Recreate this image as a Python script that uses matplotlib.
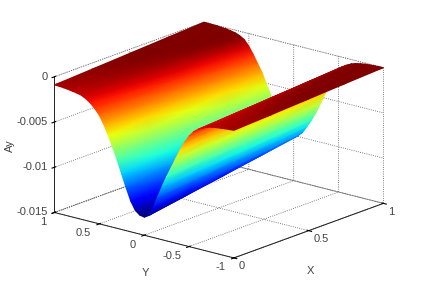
import numpy as np
import matplotlib
matplotlib.use("Agg")
import matplotlib.pyplot as plt
from matplotlib.tri import Triangulation
from mpl_toolkits.mplot3d import proj3d

plt.rcParams['font.family'] = ['Liberation Sans', 'DejaVu Sans']

y_vals = [1, .95, .9, .85, .8, .75, .7, .65, .6, .55, .5, .45, .4, .35, .3, .25, .2, .15, .1, .05, 0,
          -.05, -.1, -.15, -.2, -.25, -.3, -.35, -.4, -.45, -.5, -.55, -.6, -.65, -.7, -.75, -.8, -.85, -.9, -.95, -1]
x_vals = [0, .25, .5, .75, 1]

# Ay along each X slice, in units of 1e-4
ay_x000 = [9, 9.2, 9.6, 10.2, 11, 11.8, 13, 15.5, 19, 24, 30, 39, 50, 62, 75, 89, 103, 116, 125, 129, 130,
           127, 117, 104, 91, 79, 68, 57, 46, 36, 28, 22, 18, 15.5, 13, 11.8, 11, 10.4, 9.8, 9.4, 9]
ay_x025 = [6.8, 6.9, 7.3, 7.7, 8.4, 9.2, 10.3, 12.4, 15.5, 20, 26, 34.7, 45, 56.5, 69, 82.5, 95.5, 107.5, 116, 120.5, 122.5,
           120, 111, 99.5, 88, 76, 65, 54, 43, 33, 24.8, 19, 15.3, 12.8, 10.5, 9.4, 8.5, 8, 7.4, 7.1, 6.8]
ay_x050 = [4.5, 4.6, 4.9, 5.3, 5.9, 6.5, 7.5, 9.3, 12, 16, 22, 30.5, 40.5, 51, 63.5, 76, 88, 99, 107.5, 112.5, 115,
           113, 105.5, 95, 84.5, 73.5, 62.5, 51, 40, 30, 21.5, 16, 12.5, 10, 8, 6.9, 6.1, 5.6, 5.1, 4.8, 4.5]
ay_x075 = [2.2, 2.3, 2.6, 2.9, 3.4, 3.9, 4.8, 6.1, 8.5, 12, 18, 26.2, 35.7, 45.5, 58, 69.5, 80.5, 90.5, 99, 104.5, 107.5,
           106, 100, 90.5, 81, 71, 60, 48, 37, 27, 18.2, 13, 9.8, 7.3, 5.5, 4.5, 3.7, 3.2, 2.8, 2.5, 2.2]
ay_x100 = [0, 0, .2, .4, .8, 1.2, 2, 3, 5, 8, 14, 22, 31, 40, 52, 63, 73, 82, 90, 96, 100,
           99, 94, 86, 78, 68, 57, 45, 34, 24, 15, 10, 7, 4.5, 3, 2, 1.2, .8, .4, .2, 0]

x_ticks = [0, 0.5, 1]
x_labels = ['0', '0.5', '1']
y_ticks = [-1, -0.5, 0, 0.5, 1]
y_labels = ['-1', '-0.5', '0', '0.5', '1']
z_ticks = [-0.015, -0.01, -0.005, 0]
z_labels = ['-0.015', '-0.01', '-0.005', '0']

X, Y = np.meshgrid(x_vals, y_vals)
Z = -np.array([ay_x000, ay_x025, ay_x050, ay_x075, ay_x100]).T * 1e-4

fig = plt.figure(figsize=(4.23, 2.91), dpi=100)
ax = fig.add_axes([3.5 / 423, 1.5 / 291, 1, 1], projection='3d')
ax.set_proj_type('ortho')
ax.view_init(elev=17.7, azim=-140.2)
ax.set_box_aspect((1, 1, 0.61), zoom=1.2)

ax.set_xlim(0, 1)
ax.set_ylim(-1, 1)
ax.set_zlim(-0.015, 0)
ax.set_xticks(x_ticks)
ax.set_yticks(y_ticks)
ax.set_zticks(z_ticks)
ax.set_xticklabels([])
ax.set_yticklabels([])
ax.set_zticklabels([])
ax.tick_params(length=2)

for axis in (ax.xaxis, ax.yaxis, ax.zaxis):
    axis.pane.set_facecolor((1, 1, 1, 0))
    axis.pane.set_edgecolor('#555555')
    axis.pane.set_linestyle(':')
    axis.pane.set_linewidth(0.7)
    axis.line.set_color('#222222')
    axis.line.set_linewidth(0.7)
    axis._axinfo['grid'].update(color='#555555', linestyle=':', linewidth=0.6)

fig.canvas.draw()
h = fig.bbox.height


def to_pixels(xs, ys, zs):
    px, py, _ = proj3d.proj_transform(np.asarray(xs, float), np.asarray(ys, float), np.asarray(zs, float), ax.get_proj())
    p = ax.transData.transform(np.column_stack([px, py]))
    return p[:, 0], h - p[:, 1]


# interpolated shading: mplot3d only does flat faces, so project the mesh and
# let gouraud triangles do the colour, drawn from the far corner to the near one
sx, sy = to_pixels(X.ravel(), Y.ravel(), Z.ravel())

nrow, ncol = X.shape
tris = []
for i in range(nrow - 1):
    for j in range(ncol - 2, -1, -1):
        a = i * ncol + j
        b = a + 1
        c = a + ncol
        d = c + 1
        tris.append([a, b, d])
        tris.append([a, d, c])

over = fig.add_axes([0, 0, 1, 1])
over.set_xlim(0, 423)
over.set_ylim(291, 0)
over.axis('off')
over.patch.set_alpha(0)
over.tripcolor(Triangulation(sx, sy, tris), Z.ravel(), shading='gouraud',
               cmap='jet', vmin=Z.min(), vmax=-0.0005)

# tick labels sit at a fixed pixel offset from their tick, like in MATLAB
txt = dict(fontsize=8, color='#444444', va='center')
tx, ty = to_pixels(x_ticks, [-1] * 3, [-0.015] * 3)
for px, py, s in zip(tx, ty, x_labels):
    over.text(px + 5, py + 8.5, s, ha='left', **txt)
tx, ty = to_pixels([0] * 5, y_ticks, [-0.015] * 5)
for px, py, s in zip(tx, ty, y_labels):
    over.text(px - 8, py + 9.5, s, ha='right', **txt)
tx, ty = to_pixels([0] * 4, [1] * 4, z_ticks)
for px, py, s in zip(tx, ty, z_labels):
    over.text(px - 7, py, s, ha='right', **txt)

over.text(310, 271, 'X', ha='center', **txt)
over.text(145, 273, 'Y', ha='center', **txt)
over.text(10, 146, 'Ay', ha='center', rotation=90, **txt)

fig.savefig('out.png', dpi=100)
